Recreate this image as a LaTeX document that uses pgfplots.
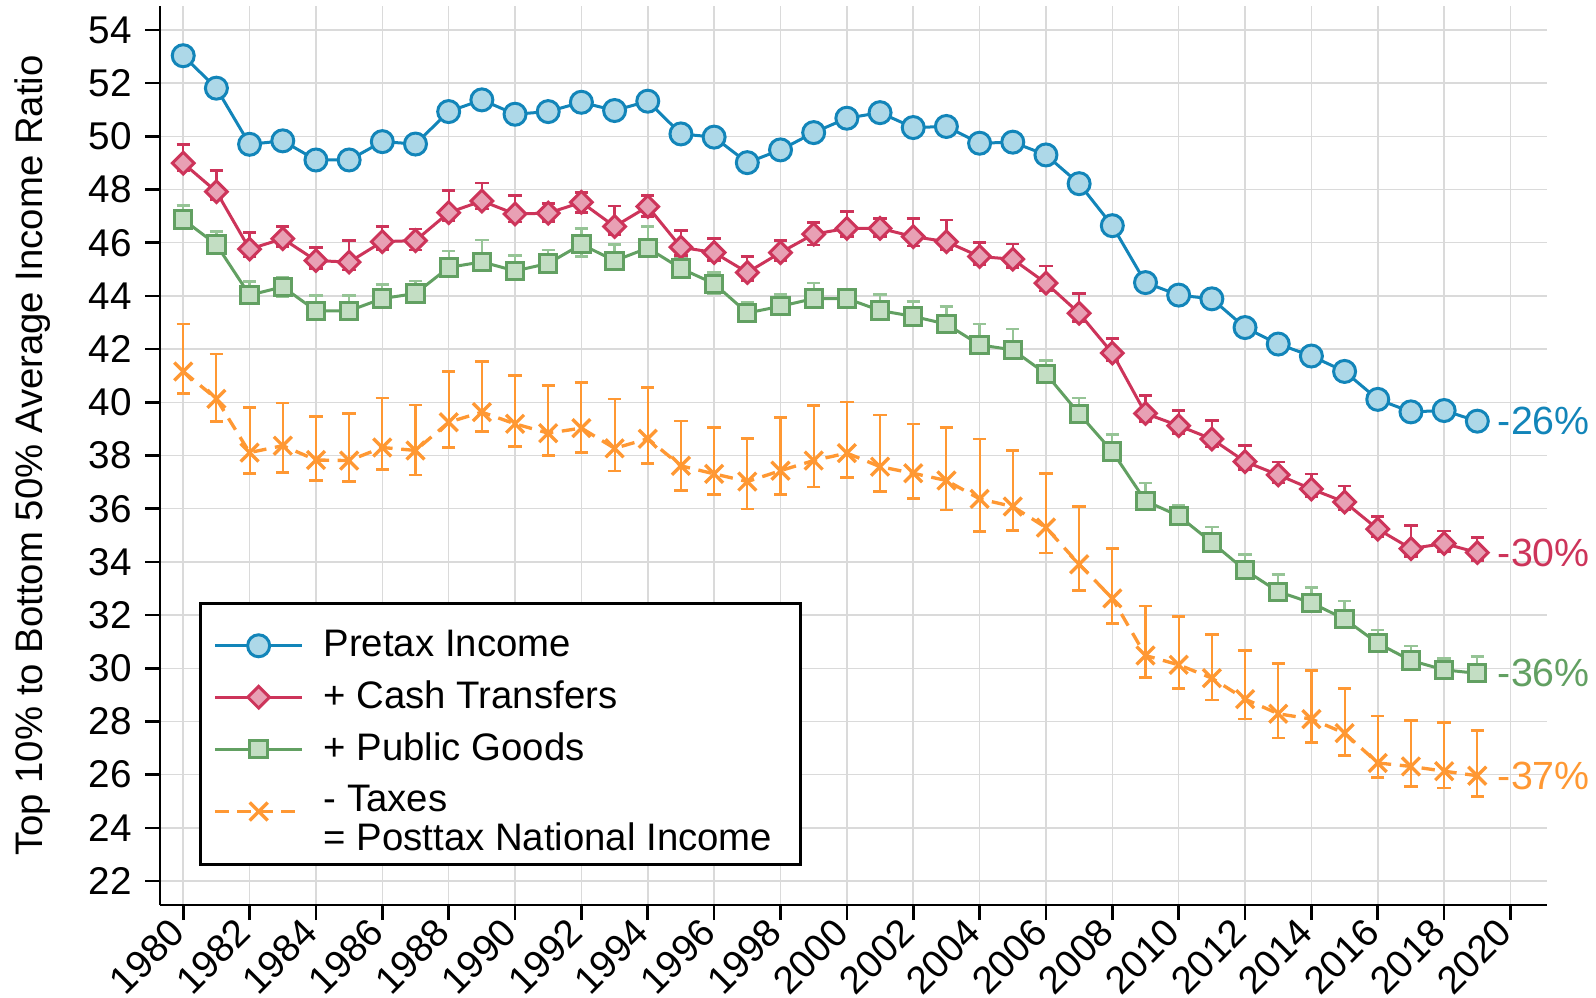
\documentclass[border=0pt]{standalone}
\usepackage{fontspec}
\setmainfont{Liberation Sans}
\usepackage{pgfplots}
\pgfplotsset{compat=1.18}
\usepackage{pgfplotstable}

\definecolor{pblue}{RGB}{18,133,185}
\definecolor{pbluefill}{RGB}{173,216,232}
\definecolor{cred}{RGB}{205,52,90}
\definecolor{cpink}{RGB}{232,160,180}
\definecolor{cgreen}{RGB}{98,160,98}
\definecolor{cgreenfill}{RGB}{195,222,195}
\definecolor{cgreenerr}{RGB}{150,196,150}
\definecolor{corange}{RGB}{255,152,51}
\definecolor{gridgray}{RGB}{218,218,218}

\pgfplotstableread{
year y
1980 53.03
1981 51.81
1982 49.70
1983 49.83
1984 49.11
1985 49.11
1986 49.80
1987 49.71
1988 50.93
1989 51.37
1990 50.83
1991 50.93
1992 51.28
1993 50.97
1994 51.32
1995 50.09
1996 49.97
1997 49.01
1998 49.49
1999 50.14
2000 50.68
2001 50.89
2002 50.33
2003 50.37
2004 49.74
2005 49.78
2006 49.30
2007 48.22
2008 46.64
2009 44.50
2010 44.03
2011 43.89
2012 42.81
2013 42.19
2014 41.74
2015 41.16
2016 40.11
2017 39.64
2018 39.69
2019 39.29
}\pretax

\pgfplotstableread{
year y ep em
1980 48.99 0.71 0.30
1981 47.92 0.79 0.30
1982 45.76 0.62 0.30
1983 46.15 0.46 0.30
1984 45.33 0.49 0.30
1985 45.27 0.81 0.30
1986 46.04 0.57 0.30
1987 46.08 0.43 0.35
1988 47.13 0.83 0.30
1989 47.57 0.67 0.30
1990 47.08 0.69 0.30
1991 47.11 0.37 0.30
1992 47.52 0.36 0.39
1993 46.61 0.77 0.30
1994 47.36 0.41 0.38
1995 45.83 0.63 0.30
1996 45.63 0.54 0.30
1997 44.88 0.60 0.30
1998 45.63 0.45 0.30
1999 46.32 0.44 0.40
2000 46.54 0.63 0.30
2001 46.54 0.38 0.31
2002 46.23 0.69 0.35
2003 46.04 0.82 0.30
2004 45.48 0.52 0.30
2005 45.38 0.57 0.30
2006 44.48 0.65 0.30
2007 43.35 0.75 0.30
2008 41.85 0.55 0.30
2009 39.58 0.67 0.30
2010 39.12 0.58 0.30
2011 38.62 0.69 0.30
2012 37.77 0.60 0.30
2013 37.27 0.49 0.30
2014 36.74 0.56 0.30
2015 36.25 0.60 0.30
2016 35.23 0.48 0.30
2017 34.50 0.88 0.30
2018 34.69 0.47 0.30
2019 34.35 0.56 0.30
}\cash

\pgfplotstableread{
year y ep em
1980 46.87 0.54 0.30
1981 45.93 0.48 0.30
1982 44.03 0.50 0.30
1983 44.34 0.34 0.35
1984 43.44 0.57 0.30
1985 43.44 0.57 0.30
1986 43.90 0.53 0.30
1987 44.09 0.47 0.30
1988 45.07 0.62 0.30
1989 45.28 0.82 0.30
1990 44.94 0.59 0.30
1991 45.22 0.50 0.30
1992 45.94 0.59 0.47
1993 45.32 0.62 0.30
1994 45.80 0.80 0.30
1995 45.03 0.40 0.32
1996 44.46 0.41 0.37
1997 43.36 0.41 0.30
1998 43.61 0.44 0.30
1999 43.90 0.59 0.30
2000 43.90 0.34 0.30
2001 43.45 0.60 0.30
2002 43.23 0.57 0.30
2003 42.94 0.67 0.30
2004 42.16 0.78 0.30
2005 41.97 0.78 0.30
2006 41.07 0.49 0.30
2007 39.57 0.59 0.30
2008 38.15 0.65 0.30
2009 36.29 0.67 0.30
2010 35.73 0.40 0.30
2011 34.73 0.58 0.30
2012 33.69 0.60 0.25
2013 32.88 0.65 0.30
2014 32.46 0.58 0.30
2015 31.85 0.68 0.30
2016 30.94 0.50 0.30
2017 30.29 0.55 0.30
2018 29.94 0.44 0.30
2019 29.81 0.63 0.30
}\public

\pgfplotstableread{
year y ep em
1980 41.16 1.79 0.84
1981 40.13 1.68 0.85
1982 38.11 1.69 0.78
1983 38.37 1.60 1.00
1984 37.83 1.64 0.77
1985 37.81 1.76 0.79
1986 38.30 1.86 0.82
1987 38.19 1.71 0.92
1988 39.25 1.90 0.94
1989 39.63 1.91 0.73
1990 39.19 1.83 0.85
1991 38.84 1.80 0.84
1992 39.03 1.72 0.91
1993 38.27 1.86 0.85
1994 38.63 1.93 0.92
1995 37.61 1.69 0.93
1996 37.31 1.74 0.77
1997 37.02 1.63 1.03
1998 37.43 2.01 0.89
1999 37.81 2.06 1.00
2000 38.09 1.92 0.91
2001 37.58 1.94 0.94
2002 37.33 1.86 0.94
2003 37.06 1.99 1.11
2004 36.37 2.25 1.23
2005 36.08 2.11 0.91
2006 35.29 2.03 0.95
2007 33.91 2.17 0.98
2008 32.63 1.87 0.94
2009 30.48 1.86 0.82
2010 30.13 1.81 0.88
2011 29.63 1.65 0.82
2012 28.84 1.82 0.75
2013 28.29 1.90 0.91
2014 28.09 1.82 0.88
2015 27.56 1.67 0.83
2016 26.44 1.77 0.54
2017 26.31 1.73 0.75
2018 26.13 1.83 0.63
2019 25.96 1.70 0.77
}\taxes

\begin{document}
\begin{tikzpicture}
\useasboundingbox (-48pt,-27.9pt) rectangle (430.8pt,271.5pt);
\begin{axis}[
  at={(0,0)}, anchor=south west,
  width=416.1pt, height=269.7pt, scale only axis,
  xmin=1979.3, xmax=2021.1, ymin=21.1, ymax=54.9,
  axis x line*=bottom, axis y line*=left,
  axis line style={-, line width=0.8pt, black},
  xtick={1980,1982,...,2020}, ytick={22,24,...,54},
  grid=major, major grid style={line width=0.45pt, color=gridgray},
  tick style={line width=0.8pt, black},
  tick align=outside, major tick length=4.5pt,
  /pgf/number format/1000 sep={},
  /pgf/number format/assume math mode=true,
  tick label style={font=\fontsize{11.6}{13.5}\selectfont},
  yticklabel style={xshift=-0.5pt},
  xticklabel style={rotate=45, anchor=east, xshift=1pt},
  ylabel={Top 10\% to Bottom 50\% Average Income Ratio},
  ylabel style={at={(axis description cs:-0.092,0.5)}, anchor=center, font=\fontsize{11.5}{13.5}\selectfont},
  clip=false,
  legend cell align=left,
  legend style={at={(0.0281,0.0434)}, anchor=south west, draw=black, line width=0.8pt,
    font=\fontsize{11.5}{10.9}\selectfont, row sep=1.8pt, inner xsep=4pt, inner ysep=6pt,
    nodes={inner xsep=4.5pt}},
  legend image code/.code={\draw[mark repeat=2,mark phase=2,#1] plot coordinates {(0pt,0pt) (13pt,0pt) (26pt,0pt)};},
]
\addplot[color=pblue, line width=0.9pt, mark=*, mark size=3.3pt,
  mark options={fill=pbluefill, draw=pblue, line width=0.9pt, solid}]
  table[x=year, y=y] {\pretax};
\addlegendentry{\hspace{1.5pt}Pretax Income}

\addplot[color=cred, line width=0.9pt, mark=square*, mark size=2.3pt,
  mark options={fill=cpink, draw=cred, line width=0.9pt, solid, rotate=45},
  error bars/.cd, y dir=both, y explicit, error mark=|,
  error bar style={line width=0.7pt, cred, solid},
  error mark options={cred, mark size=2pt, line width=0.8pt}]
  table[x=year, y=y, y error plus=ep, y error minus=em] {\cash};
\addlegendentry{\hspace{1.5pt}+ Cash Transfers}

\addplot[color=cgreen, line width=0.9pt, mark=square*, mark size=2.6pt,
  mark options={fill=cgreenfill, draw=cgreen, line width=0.9pt, solid},
  error bars/.cd, y dir=both, y explicit, error mark=|,
  error bar style={line width=0.7pt, cgreenerr, solid},
  error mark options={cgreenerr, mark size=2pt, line width=0.8pt}]
  table[x=year, y=y, y error plus=ep, y error minus=em] {\public};
\addlegendentry{\hspace{1.5pt}+ Public Goods}

\addplot[color=corange, line width=1pt, dash pattern=on 4pt off 2.6pt, mark=x, mark size=3.8pt,
  mark options={draw=corange, line width=1pt, solid},
  error bars/.cd, y dir=both, y explicit, error mark=|,
  error bar style={line width=0.65pt, corange, solid},
  error mark options={corange, mark size=2pt, line width=0.8pt, solid}]
  table[x=year, y=y, y error plus=ep, y error minus=em] {\taxes};
\addlegendentry{{\begin{tabular}{@{}l@{}}\hspace{1.5pt}- Taxes\\\hspace{1.5pt}= Posttax National Income\end{tabular}}}

\node[anchor=west, inner sep=0pt, text=pblue, font=\fontsize{11.8}{14}\selectfont] at (axis cs:2019.6,39.29) {-26\%};
\node[anchor=west, inner sep=0pt, text=cred, font=\fontsize{11.8}{14}\selectfont] at (axis cs:2019.6,34.35) {-30\%};
\node[anchor=west, inner sep=0pt, text=cgreen, font=\fontsize{11.8}{14}\selectfont] at (axis cs:2019.6,29.81) {-36\%};
\node[anchor=west, inner sep=0pt, text=corange, font=\fontsize{11.8}{14}\selectfont] at (axis cs:2019.6,25.96) {-37\%};
\end{axis}
\end{tikzpicture}
\end{document}
